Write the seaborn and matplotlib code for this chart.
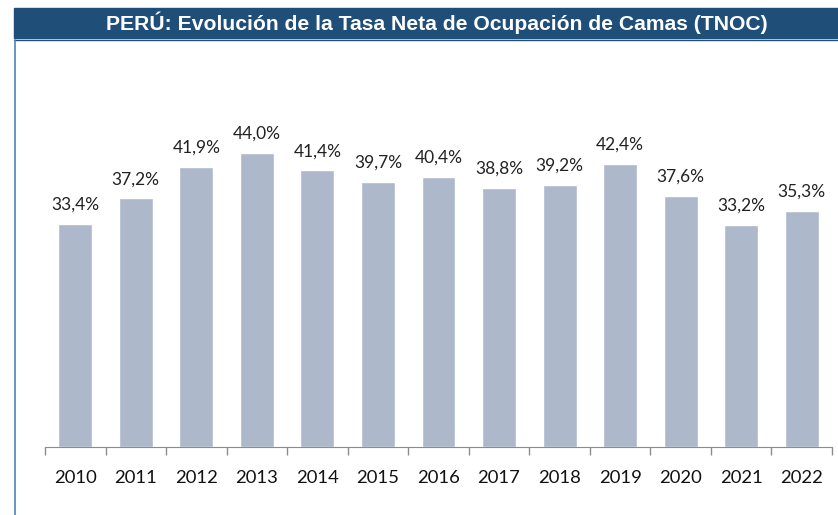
import pandas as pd
import seaborn as sns
import matplotlib.pyplot as plt
from matplotlib.patches import Rectangle
from matplotlib.lines import Line2D

# datos TNOC
years = ['2010', '2011', '2012', '2013', '2014', '2015', '2016',
         '2017', '2018', '2019', '2020', '2021', '2022']
tnoc = [33.4, 37.2, 41.9, 44.0, 41.4, 39.7, 40.4, 38.8, 39.2, 42.4, 37.6, 33.2, 35.3]
title = 'PERÚ: Evolución de la Tasa Neta de Ocupación de Camas (TNOC)'

df = pd.DataFrame({'anio': years, 'tnoc': tnoc})

sns.set_style("white")
plt.rcParams['font.family'] = ['Lato', 'DejaVu Sans']

W, H = 838, 515
fig = plt.figure(figsize=(W / 100, H / 100), dpi=100)

# axes placed in pixel terms
left, right, base, top = 45, 832, 447.3, 40
ax = fig.add_axes([left / W, (H - base) / H, (right - left) / W, (base - top) / H])

sns.barplot(data=df, x='anio', y='tnoc', color='#ADB9CA', saturation=1,
            width=0.56, errorbar=None, ax=ax)
ax.set_ylim(0, (base - top) / 6.69)
ax.set_xlim(-0.5, len(years) - 0.5)

for i, v in enumerate(tnoc):
    ax.annotate(f'{v:.1f}%'.replace('.', ','), (i, v), xytext=(0, 8),
                textcoords='offset points', ha='center', va='bottom',
                fontsize=12.5, color='#222222')

sns.despine(ax=ax, left=True, top=True, right=True)
ax.spines['bottom'].set_color('#8C8C8C')
ax.set_yticks([])
ax.set_xlabel('')
ax.set_ylabel('')
ax.set_xticks([i - 0.5 for i in range(len(years) + 1)], minor=True)
ax.tick_params(axis='x', which='minor', bottom=True, length=6, color='#8C8C8C', width=1)
ax.tick_params(axis='x', which='major', length=0, labelsize=13.3, pad=16,
               labelcolor='#111111')

# title banner and frame
fig.patches.append(Rectangle((14 / W, (H - 37.5) / H), (W - 14) / W, 29.5 / H,
                             transform=fig.transFigure, color='#1F4E79'))
fig.lines.append(Line2D([14 / W, 1], [(H - 39.5) / H] * 2, transform=fig.transFigure,
                        color='#1F4E79', lw=1))
fig.lines.append(Line2D([15 / W, 15 / W], [0, (H - 39.5) / H], transform=fig.transFigure,
                        color='#4F81BD', lw=1.2))
fig.text(437 / W, (H - 22.5) / H, title, ha='center', va='center', color='white',
         fontsize=15.2, fontweight='bold', family=['Liberation Sans', 'DejaVu Sans'])

fig.savefig('out.png', dpi=100)
